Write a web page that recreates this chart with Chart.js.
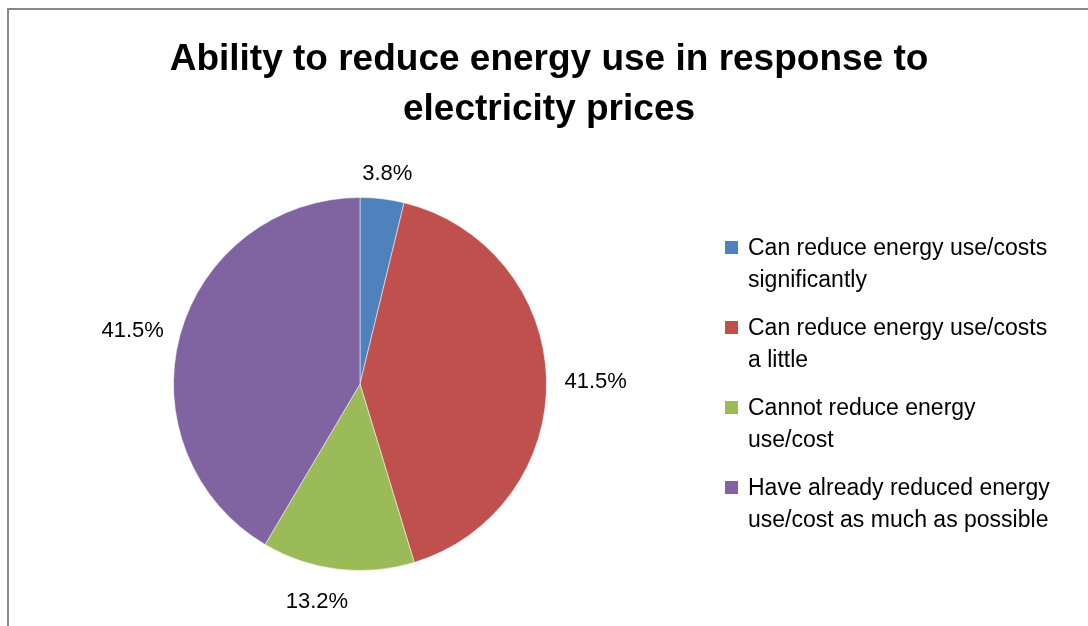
<!DOCTYPE html>
<html>
<head>
<meta charset="utf-8">
<script src="https://cdn.jsdelivr.net/npm/chart.js@4/dist/chart.umd.min.js"></script>
<style>
  html, body { margin: 0; padding: 0; background: #fff; }
  #wrap { position: relative; width: 1088px; height: 626px; overflow: hidden; }
  #frame { position: absolute; left: 7px; top: 8px; width: 1200px; height: 800px;
           border-left: 2px solid #888; border-top: 2px solid #888; }
  canvas { position: absolute; left: 0; top: 0; }
</style>
</head>
<body>
<div id="wrap">
  <div id="frame"></div>
  <canvas id="pie" width="1088" height="626"></canvas>
</div>
<script>
// chart data
var titleLines = ['Ability to reduce energy use in response to', 'electricity prices'];
var categories = [
  ['Can reduce energy use/costs', 'significantly'],
  ['Can reduce energy use/costs', 'a little'],
  ['Cannot reduce energy', 'use/cost'],
  ['Have already reduced energy', 'use/cost as much as possible']
];
var shares = [3.8, 41.5, 13.2, 41.5]; // percent
var colors = ['#4F81BD', '#C0504D', '#9BBB59', '#8064A2'];

var FONT = '"Liberation Sans", Arial, sans-serif';

// title, legend and value labels drawn on the canvas
var extras = {
  id: 'extras',
  afterDraw: function (chart) {
    var ctx = chart.ctx;
    ctx.save();
    ctx.fillStyle = '#000';

    // title
    ctx.font = 'bold 37px ' + FONT;
    ctx.textAlign = 'center';
    ctx.textBaseline = 'alphabetic';
    ctx.fillText(titleLines[0], 549, 70);
    ctx.fillText(titleLines[1], 549, 120);

    // value labels outside each slice
    ctx.font = '22px ' + FONT;
    ctx.textBaseline = 'middle';
    var arcs = chart.getDatasetMeta(0).data;
    arcs.forEach(function (arc, i) {
      var p = arc.getProps(['x', 'y', 'startAngle', 'endAngle', 'outerRadius'], true);
      var mid = (p.startAngle + p.endAngle) / 2;
      var dx = Math.cos(mid), dy = Math.sin(mid);
      var txt = shares[i].toFixed(1) + '%';
      var w = ctx.measureText(txt).width;
      var r = p.outerRadius + 18;
      var cx = p.x + dx * r + dx * w / 2;
      var cy = p.y + dy * r + dy * 11 + 4;
      // Excel nudges labels near the bottom away from the centre line
      if (dy > 0.9) cx -= 15;
      ctx.fillText(txt, cx, cy);
    });

    // legend
    var boxY = [248, 328, 408, 488];
    ctx.font = '23px ' + FONT;
    ctx.textAlign = 'left';
    categories.forEach(function (lines, i) {
      ctx.fillStyle = colors[i];
      ctx.fillRect(725, boxY[i] - 7, 13, 13);
      ctx.fillStyle = '#000';
      lines.forEach(function (t, j) {
        ctx.fillText(t, 748, boxY[i] + 1 + j * 32);
      });
    });
    ctx.restore();
  }
};

new Chart(document.getElementById('pie').getContext('2d'), {
  type: 'pie',
  data: {
    labels: categories.map(function (c) { return c.join(' '); }),
    datasets: [{
      data: shares,
      backgroundColor: colors,
      borderColor: 'rgba(255,255,255,0.5)',
      borderWidth: 1
    }]
  },
  options: {
    responsive: false,
    animation: false,
    layout: { padding: { left: 173, right: 541, top: 197, bottom: 55 } },
    plugins: {
      legend: { display: false },
      title: { display: false },
      tooltip: { enabled: false }
    }
  },
  plugins: [extras]
});
</script>
</body>
</html>
